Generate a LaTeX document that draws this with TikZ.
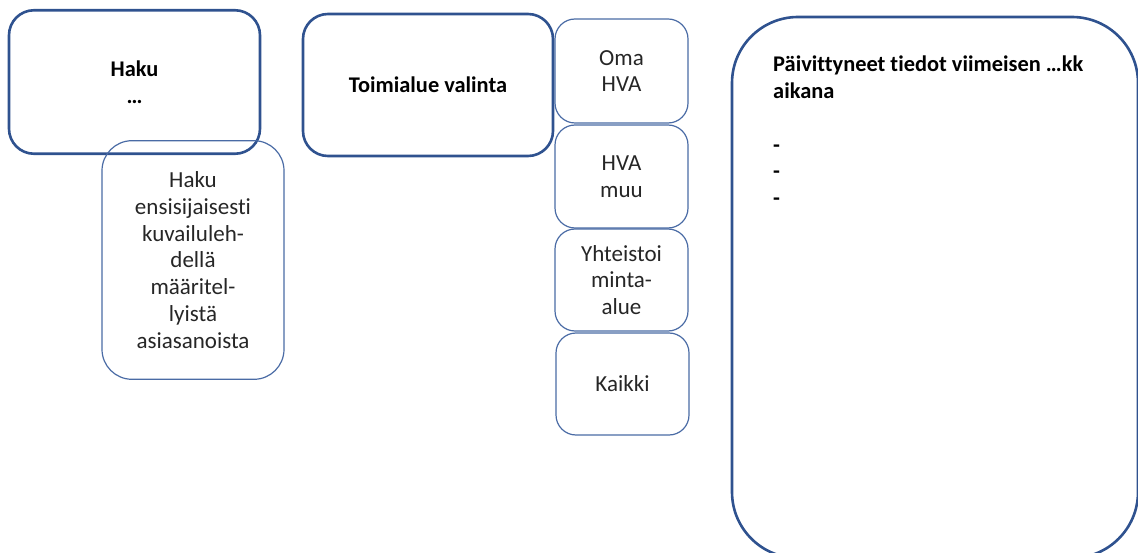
\documentclass[tikz,border=0pt]{standalone}
\usepackage{fontspec}
\setmainfont[Ligatures={NoCommon}]{Carlito}
\definecolor{thickc}{HTML}{2F528F}
\definecolor{thinc}{HTML}{4A6BA5}
\definecolor{txt}{HTML}{262626}
\begin{document}
\begin{tikzpicture}[x=1pt,y=-1pt,
  txtfont/.style={font=\fontsize{23}{26.7}\selectfont, text=txt},
  boldfont/.style={font=\fontsize{22.4}{26.7}\selectfont\bfseries, text=black},
  bigbox/.style={draw=thickc, line width=2.6pt, rounded corners=25pt, inner sep=0pt, align=center, boldfont},
  smallbox/.style={draw=thinc, line width=1.2pt, rounded corners=#1, inner sep=0pt, align=center, txtfont},
  smallbox/.default=20pt]
\useasboundingbox (0,0) rectangle (1138,553);
% Haku
\node[bigbox, minimum width=251pt, minimum height=143.5pt] (haku) at (134.5,82)
  {Haku\\…};
\node[smallbox=30pt, minimum width=182pt, minimum height=238.6pt] (hakudesc) at (193,260)
  {Haku\\ensisijaisesti\\kuvailuleh-\\dellä\\määritel-\\lyistä\\asiasanoista};
% Toimialue
\node[bigbox, minimum width=250pt, minimum height=142pt] (toimi) at (428,85)
  {Toimialue valinta};
\node[smallbox, minimum width=133pt, minimum height=104pt] (oma) at (621.5,71) {Oma\\HVA};
\node[smallbox, minimum width=133pt, minimum height=103pt] (muu) at (621.5,176.5) {HVA\\muu};
\node[smallbox, minimum width=133pt, minimum height=102pt] (yht) at (621.5,280) {Yhteistoi\\minta-\\alue};
\node[smallbox, minimum width=133pt, minimum height=102pt] (kaikki) at (622.5,384) {Kaikki};
% Right box
\node[draw=thickc, line width=2.6pt, rounded corners=66pt, inner sep=0pt,
  minimum width=406pt, minimum height=541pt] (paiv) at (935,287.5) {};
\node[boldfont, align=left, anchor=north west, inner sep=0pt] (paivtxt) at (773,56)
  {Päivittyneet tiedot viimeisen …kk\\aikana\\\mbox{}\\-\\-\\-};
\end{tikzpicture}
\end{document}
